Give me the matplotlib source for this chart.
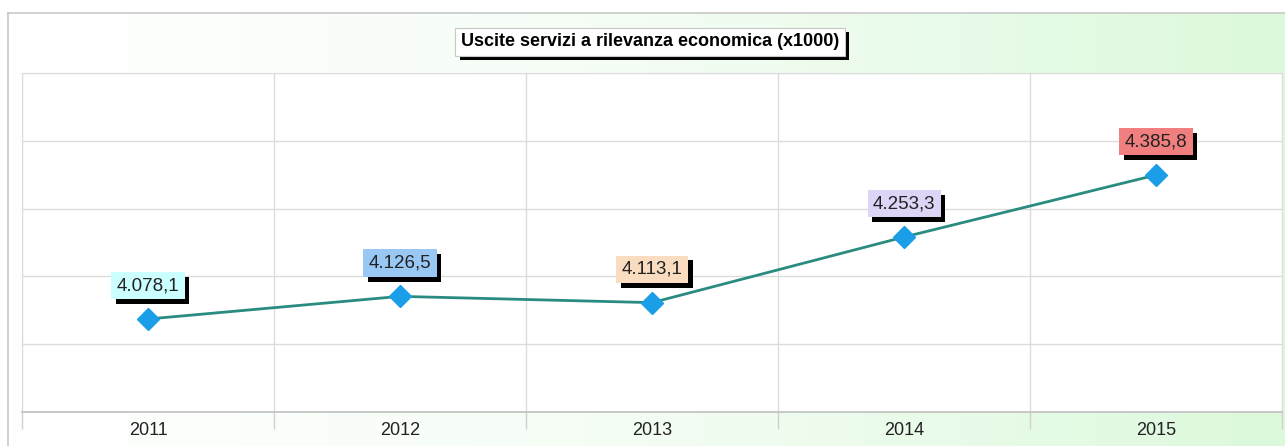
import numpy as np
from matplotlib import pyplot as plt
from matplotlib import patheffects as pe
from matplotlib.colors import LinearSegmentedColormap

# dati
anni = ["2011", "2012", "2013", "2014", "2015"]
valori = [4078.1, 4126.5, 4113.1, 4253.3, 4385.8]
etichette = ["4.078,1", "4.126,5", "4.113,1", "4.253,3", "4.385,8"]
colori_box = ["#ccffff", "#99c8f4", "#fadcc0", "#ddd4f6", "#f27f7f"]
titolo = "Uscite servizi a rilevanza economica (x1000)"

plt.rcParams['font.family'] = ['Liberation Sans', 'DejaVu Sans']

fig = plt.figure(figsize=(12.85, 4.46), dpi=100)

# sfondo sfumato (bianco -> verde chiaro)
bg = fig.add_axes([8/1285, 0, 1 - 8/1285, 1 - 13/446], zorder=-10)
cmap = LinearSegmentedColormap.from_list("sf", ["#ffffff", "#f4fdf4", "#dcf9dc"])
grad = np.linspace(0, 1, 256).reshape(1, -1)
bg.imshow(grad, aspect="auto", cmap=cmap, extent=[0, 1, 0, 1])
bg.set_xticks([])
bg.set_yticks([])
for s in ["right", "bottom"]:
    bg.spines[s].set_visible(False)
for s in ["left", "top"]:
    bg.spines[s].set_color("#c8c8c8")
    bg.spines[s].set_linewidth(1.2)

ax = fig.add_axes([22/1285, 1 - 412/446, 1260/1285, (412 - 73)/446])
ax.set_facecolor("white")
x = np.arange(len(anni))
ax.plot(x, valori, color="#2a8c80", lw=2, zorder=3)
ax.plot(x, valori, ls="none", marker="D", ms=11, color="#1a9ee8", zorder=4)

ax.set_xlim(-0.5, len(anni) - 0.5)
ax.set_ylim(3879.4, 4603.8)
ax.set_yticks(np.linspace(3879.4, 4603.8, 6))
ax.set_yticklabels([])
ax.set_xticks(x)
ax.set_xticklabels(anni, fontsize=13, color="#222222")
ax.set_xticks(np.arange(-0.5, len(anni)), minor=True)
ax.tick_params(axis="x", which="major", length=0, pad=7)
ax.tick_params(axis="x", which="minor", length=12, color="#d0d0d0", width=1)
ax.tick_params(axis="y", length=0)
ax.grid(axis="y", color="#dcdcdc", lw=1)
ax.grid(axis="x", which="minor", color="#dcdcdc", lw=1)
for s in ["left", "top", "right"]:
    ax.spines[s].set_color("#dcdcdc")
ax.spines["bottom"].set_color("#c4c4c4")
ax.spines["bottom"].set_linewidth(1.3)

ombra = [pe.SimplePatchShadow(offset=(3.5, -3.5), shadow_rgbFace="black", alpha=1),
         pe.Normal()]

# etichette con ombra
for xi, v, t, c in zip(x, valori, etichette, colori_box):
    a = ax.annotate(t, (xi, v), xytext=(0, 24), textcoords="offset points",
                    ha="center", va="center", fontsize=13.5, color="#222222", zorder=6,
                    bbox=dict(boxstyle="square,pad=0.28", fc=c, ec="none"))
    a.get_bbox_patch().set_path_effects(ombra)

# titolo con ombra
tt = fig.text(650/1285, 1 - 42/446, titolo, ha="center", va="center",
              fontsize=13, fontweight="bold", color="black",
              bbox=dict(boxstyle="square,pad=0.3", fc="white", ec="#c8c8c8", lw=0.8))
tt.get_bbox_patch().set_path_effects(
    [pe.SimplePatchShadow(offset=(3, -3), shadow_rgbFace="black", alpha=1), pe.Normal()])

fig.savefig("out.png", dpi=100)
